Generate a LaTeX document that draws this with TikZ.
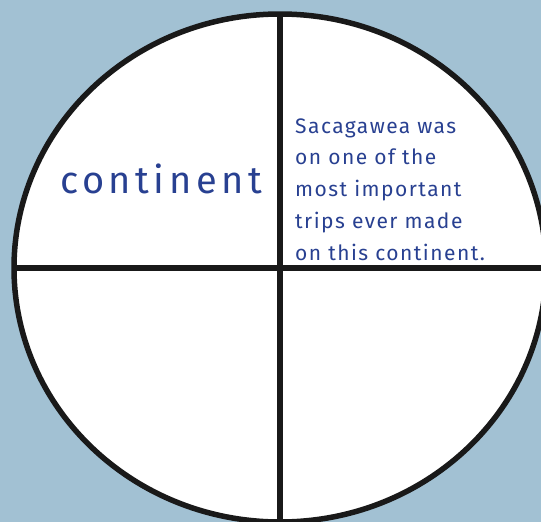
\documentclass[tikz,border=0pt]{standalone}
\usepackage{fontspec}
\setmainfont{Fira Sans}
\usepackage{tikz}
\usetikzlibrary{positioning}
\definecolor{skyback}{RGB}{162,193,211}
\definecolor{inkblue}{RGB}{40,64,145}

\begin{document}
\begin{tikzpicture}[
  x=1pt, y=-1pt,
  rim/.style={draw=black!90, line width=5.5pt},
  word/.style={text=inkblue, inner sep=0pt, font=\fontsize{38}{40}\selectfont\addfontfeatures{LetterSpace=12}},
  sentence/.style={text=inkblue, inner sep=0pt, align=left, font=\fontsize{21}{31.75}\selectfont\addfontfeatures{LetterSpace=7}}
]
\useasboundingbox (0,0) rectangle (541,522);
\fill[skyback] (0,0) rectangle (541,522);
\begin{scope}
  \clip (0,0) rectangle (541,522);
  % the four-square circle
  \coordinate (mid) at (280,268);
  \fill[white] (mid) ellipse [x radius=266, y radius=254];
  \begin{scope}
    \clip (mid) ellipse [x radius=266, y radius=254];
    \draw[rim] (280,0) -- (280,522);
    \draw[rim] (0,268) -- (541,268);
  \end{scope}
  \draw[rim] (mid) ellipse [x radius=266, y radius=254];
\end{scope}

\node[word, anchor=base] (term) at (161,193) {continent};
\node[sentence, anchor=base west] (quote) at (295,260) {Sacagawea was\\on one of the\\most important\\trips ever made\\on this continent.};
\end{tikzpicture}
\end{document}
